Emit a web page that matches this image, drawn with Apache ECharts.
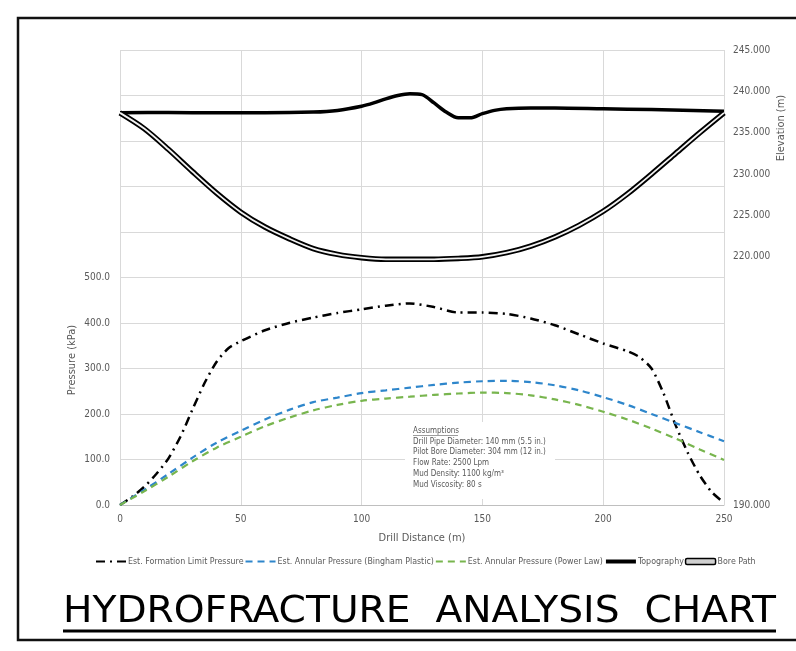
<!DOCTYPE html>
<html><head><meta charset="utf-8">
<script src="https://cdn.jsdelivr.net/npm/echarts@6/dist/echarts.min.js"></script>
<style>html,body{margin:0;padding:0;background:#fff}#c{width:796px;height:651px}</style>
</head><body><div id="c"></div>
<script>
// ---- data ----
const formationX = [0,5,10,15,20,25,30,35,40,45,50,60,70,80,90,100,110,120,130,140,150,160,170,180,190,200,210,215,220,225,230,235,240,245,250];
const formationP = [0,18,40,68,102,150,210,268,315,345,360,384,400,412,422,430,438,443,435,423,423,420,410,395,375,355,338,325,300,245,175,115,65,28,5];
const distX = [0,10,20,30,40,50,60,70,80,90,100,110,120,130,140,150,160,170,180,190,200,210,220,230,240,250];
const binghamP = [0,33,68,104,137,163,188,209,226,236,246,252,258,264,269,272,273,270,263,252,237,220,200,180,160,140];
const powerLawP = [0,30,62,96,126,150,173,192,208,220,229,234,238,242,245,247,246,241,232,220,205,188,168,146,122,99];
const topoX = [0,20,40,60,80,90,100,105,110,115,120,125,130,135,140,145,150,155,160,170,180,200,220,250];
const topoZ = [237.4,237.45,237.4,237.4,237.5,237.7,238.2,238.6,239.1,239.5,239.7,239.6,238.6,237.5,236.8,236.8,237.3,237.7,237.9,238.0,238.0,237.9,237.8,237.6];
const boreZ = [237.4,235.5,233.0,230.3,227.7,225.4,223.6,222.2,221.0,220.3,219.9,219.7,219.7,219.7,219.8,220.0,220.5,221.3,222.4,223.8,225.5,227.6,230.0,232.5,235.0,237.4];
const seriesNames = ['Est. Formation Limit Pressure','Est. Annular Pressure (Bingham Plastic)','Est. Annular Pressure (Power Law)','Topography','Bore Path'];
const assumptions = ['Drill Pipe Diameter: 140 mm (5.5 in.)','Pilot Bore Diameter: 304 mm (12 in.)','Flow Rate: 2500 Lpm','Mud Density: 1100 kg/m\u00B3','Mud Viscosity: 80 s'];
const titleText = 'HYDROFRACTURE  ANALYSIS  CHART';

const pair = (xs, ys) => xs.map((x, i) => [x, ys[i]]);
const grey = '#595959';
const narrow = '"Liberation Sans Narrow","DejaVu Sans Condensed",sans-serif';

// measure title for horizontal fit
const titleFont = '38px ' + narrow;
const cv = document.createElement('canvas').getContext('2d');
cv.font = titleFont;
const titleW = cv.measureText(titleText).width;
const titleTarget = 713;

const chart = echarts.init(document.getElementById('c'));
const asmFont = '8px ' + narrow;
const asmGraphics = [
  {type:'rect', shape:{x:405,y:422,width:150,height:77}, style:{fill:'#fff'}, z:10},
  {type:'text', x:413, y:431, style:{text:'Assumptions', fill:grey, font:asmFont, verticalAlign:'middle'}, z:11},
  {type:'line', shape:{x1:413,y1:435.5,x2:458,y2:435.5}, style:{stroke:grey, lineWidth:0.6}, z:11}
].concat(assumptions.map((t, i) => ({type:'text', x:413, y:441.5 + i*10.8, style:{text:t, fill:grey, font:asmFont, verticalAlign:'middle'}, z:11})));

const hideSym = {opacity:0};
chart.setOption({
  animation:false,
  grid:{left:120, right:72, top:50, bottom:146},
  legend:{
    bottom:80, left:90, itemWidth:30, itemHeight:6, itemGap:1,
    textStyle:{color:grey, fontSize:8.8, fontFamily:narrow, padding:[0,0,0,-3]},
    data:[
      {name:seriesNames[0], itemStyle:hideSym},{name:seriesNames[1], itemStyle:hideSym},
      {name:seriesNames[2], itemStyle:hideSym},{name:seriesNames[3], itemStyle:hideSym, lineStyle:{width:4}},
      {name:seriesNames[4], icon:'roundRect', itemStyle:{color:'#d0d0d0', borderColor:'#000', borderWidth:1.5, opacity:1}}
    ]
  },
  xAxis:{type:'value', min:0, max:250, interval:50,
    name:'Drill Distance (m)', nameLocation:'middle', nameGap:28,
    nameTextStyle:{color:grey, fontSize:11, fontFamily:narrow},
    axisLine:{lineStyle:{color:'#bfbfbf'}}, axisTick:{show:false},
    axisLabel:{color:grey, fontSize:10, fontFamily:narrow, margin:9},
    splitLine:{lineStyle:{color:'#d9d9d9'}}},
  yAxis:[
    {type:'value', min:0, max:1000, interval:100,
      axisLine:{show:false}, axisTick:{show:false},
      axisLabel:{color:grey, fontSize:10, fontFamily:narrow, margin:10, formatter:v => v <= 500 ? v.toFixed(1) : ''},
      splitLine:{lineStyle:{color:'#d9d9d9'}}},
    {type:'value', min:190, max:245, interval:5, position:'right',
      axisLine:{show:false}, axisTick:{show:false}, splitLine:{show:false},
      axisLabel:{color:grey, fontSize:10, fontFamily:narrow, margin:9, formatter:v => (v >= 220 || v === 190) ? v.toFixed(3) : ''}}
  ],
  series:[
    {name:seriesNames[0], type:'line', symbol:'none', smooth:0.25, data:pair(formationX, formationP),
      lineStyle:{color:'#000', width:2.5, type:[9,5,2,5]}, itemStyle:{color:'#000'}},
    {name:seriesNames[1], type:'line', symbol:'none', smooth:0.3, data:pair(distX, binghamP),
      lineStyle:{color:'#2e86cb', width:2.2, type:[7,5]}, itemStyle:{color:'#2e86cb'}},
    {name:seriesNames[2], type:'line', symbol:'none', smooth:0.3, data:pair(distX, powerLawP),
      lineStyle:{color:'#78b54e', width:2.2, type:[7,5]}, itemStyle:{color:'#78b54e'}},
    {name:seriesNames[3], type:'line', symbol:'none', smooth:0.3, yAxisIndex:1, data:pair(topoX, topoZ),
      lineStyle:{color:'#000', width:3.5}, itemStyle:{color:'#000'}},
    {name:seriesNames[4], type:'line', symbol:'none', smooth:0.3, yAxisIndex:1, data:pair(distX, boreZ),
      lineStyle:{color:'#000', width:5.5}, itemStyle:{color:'#000'}},
    {name:'bore-inner', type:'line', symbol:'none', smooth:0.3, yAxisIndex:1, data:pair(distX, boreZ),
      lineStyle:{color:'#f2f2f2', width:1.8}, itemStyle:{color:'#f2f2f2'}, silent:true}
  ],
  graphic:[
    {type:'rect', shape:{x:18,y:18,width:800,height:622}, style:{fill:'none', stroke:'#111', lineWidth:2.5}},
    {type:'text', x:72, y:360, rotation:Math.PI/2, style:{text:'Pressure (kPa)', fill:grey, font:'11px '+narrow, align:'center', verticalAlign:'middle'}},
    {type:'text', x:781, y:128, rotation:Math.PI/2, style:{text:'Elevation (m)', fill:grey, font:'11px '+narrow, align:'center', verticalAlign:'middle'}},
    {type:'text', x:63, y:612, scaleX:titleTarget/titleW, style:{text:titleText, fill:'#000', font:titleFont, verticalAlign:'middle'}},
    {type:'line', shape:{x1:63,y1:631,x2:776,y2:631}, style:{stroke:'#000', lineWidth:3}}
  ].concat(asmGraphics)
});
</script></body></html>
